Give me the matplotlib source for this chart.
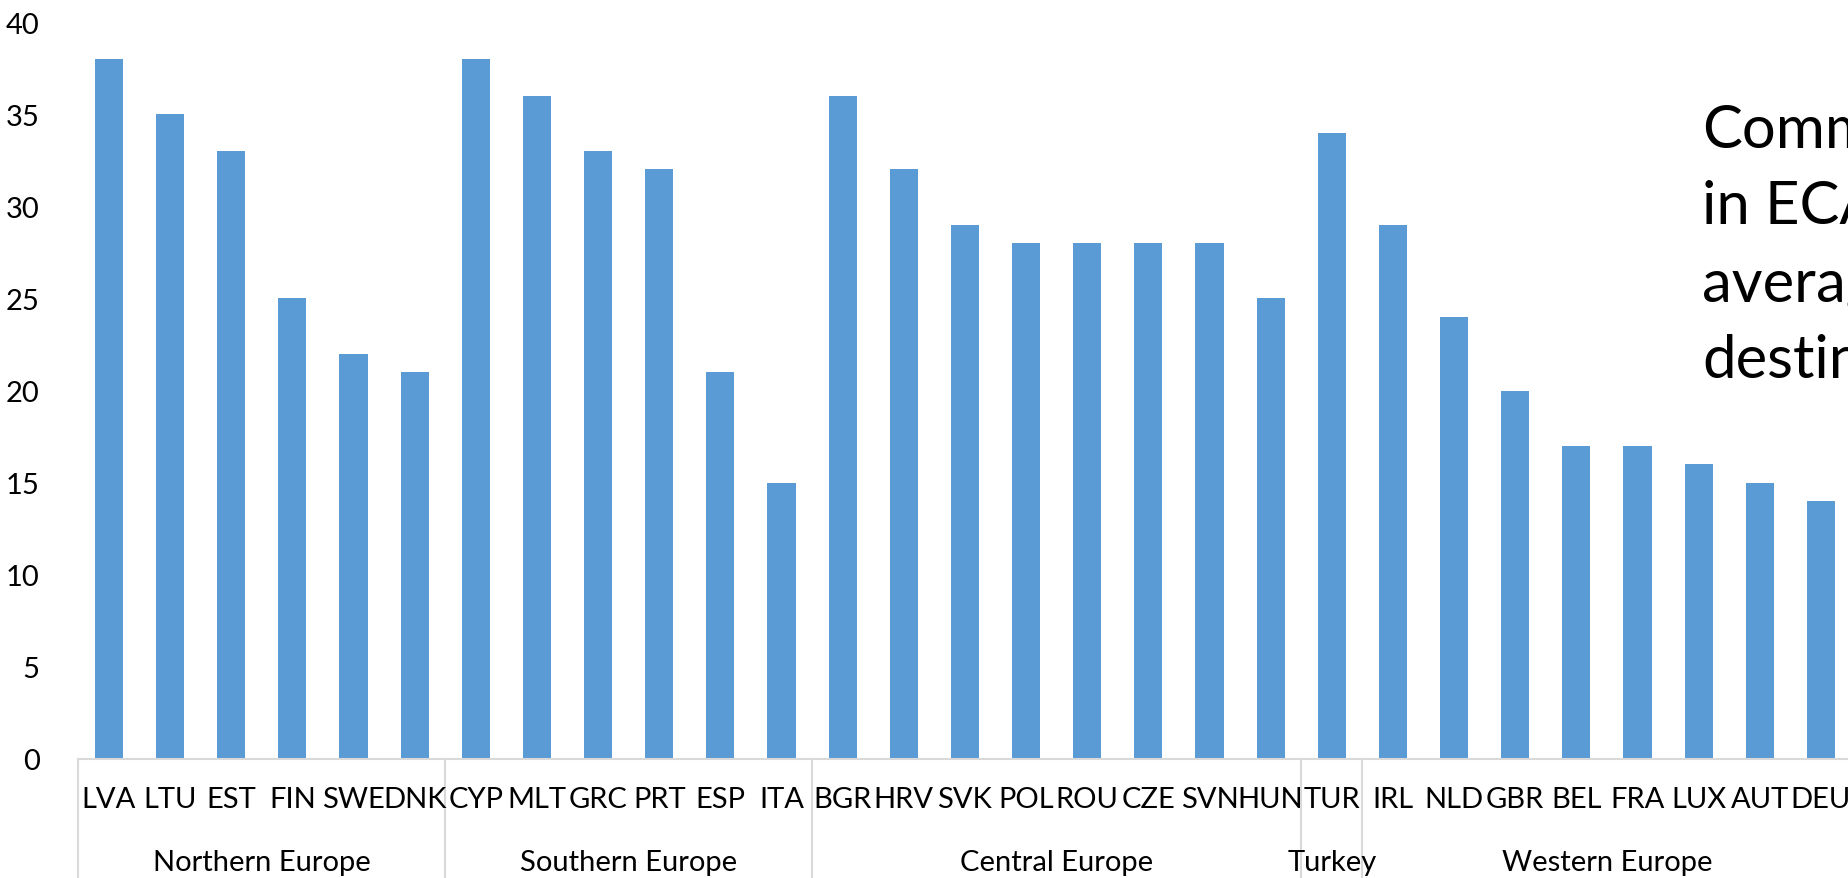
import matplotlib.pyplot as plt

plt.rcParams['font.family'] = ['Lato', 'DejaVu Sans']

countries = ['LVA', 'LTU', 'EST', 'FIN', 'SWE', 'DNK',
             'CYP', 'MLT', 'GRC', 'PRT', 'ESP', 'ITA',
             'BGR', 'HRV', 'SVK', 'POL', 'ROU', 'CZE', 'SVN', 'HUN',
             'TUR',
             'IRL', 'NLD', 'GBR', 'BEL', 'FRA', 'LUX', 'AUT', 'DEU']
values = [38, 35, 33, 25, 22, 21,
          38, 36, 33, 32, 21, 15,
          36, 32, 29, 28, 28, 28, 28, 25,
          34,
          29, 24, 20, 17, 17, 16, 15, 14]
groups = ['Northern Europe', 'Southern Europe', 'Central Europe', 'Turkey', 'Western Europe']
group_sizes = [6, 6, 8, 1, 8]
# overlay text box, cut off by the right edge in the original slide
note_lines = ['Commuting', 'in ECA', 'average', 'destination']

W, H = 1849, 879
fig = plt.figure(figsize=(W / 100, H / 100), dpi=100)
ax = fig.add_axes([78.4 / W, (H - 760) / H, 29 * 61.14 / W, 737 / H])

x = range(len(countries))
ax.bar(x, values, width=0.46, color='#5B9BD5')
ax.set_xlim(-0.5, len(countries) - 0.5)
ax.set_ylim(0, 40)
ax.set_yticks(range(0, 41, 5))
ax.tick_params(axis='y', length=0, pad=28, labelsize=21)
ax.set_xticks([])
for s in ['top', 'right', 'left']:
    ax.spines[s].set_visible(False)
ax.spines['bottom'].set_color('#D9D9D9')
ax.spines['bottom'].set_linewidth(1.5)

tr = ax.get_xaxis_transform()
for i, c in enumerate(countries):
    ax.text(i, -40 / 737, c, transform=tr, ha='center', va='center', fontsize=21)

start = -0.5
ax.plot([start, start], [0, -119 / 737], transform=tr, color='#D9D9D9', lw=1.5, clip_on=False)
for g, n in zip(groups, group_sizes):
    end = start + n
    ax.text((start + end) / 2, -103 / 737, g, transform=tr, ha='center', va='center', fontsize=21)
    ax.plot([end, end], [0, -119 / 737], transform=tr, color='#D9D9D9', lw=1.5, clip_on=False)
    start = end

for k, line in enumerate(note_lines):
    fig.text(1702 / W, 1 - (147 + 77 * k) / H, line, fontsize=43, va='baseline', ha='left')

fig.savefig('out.png', dpi=100)
